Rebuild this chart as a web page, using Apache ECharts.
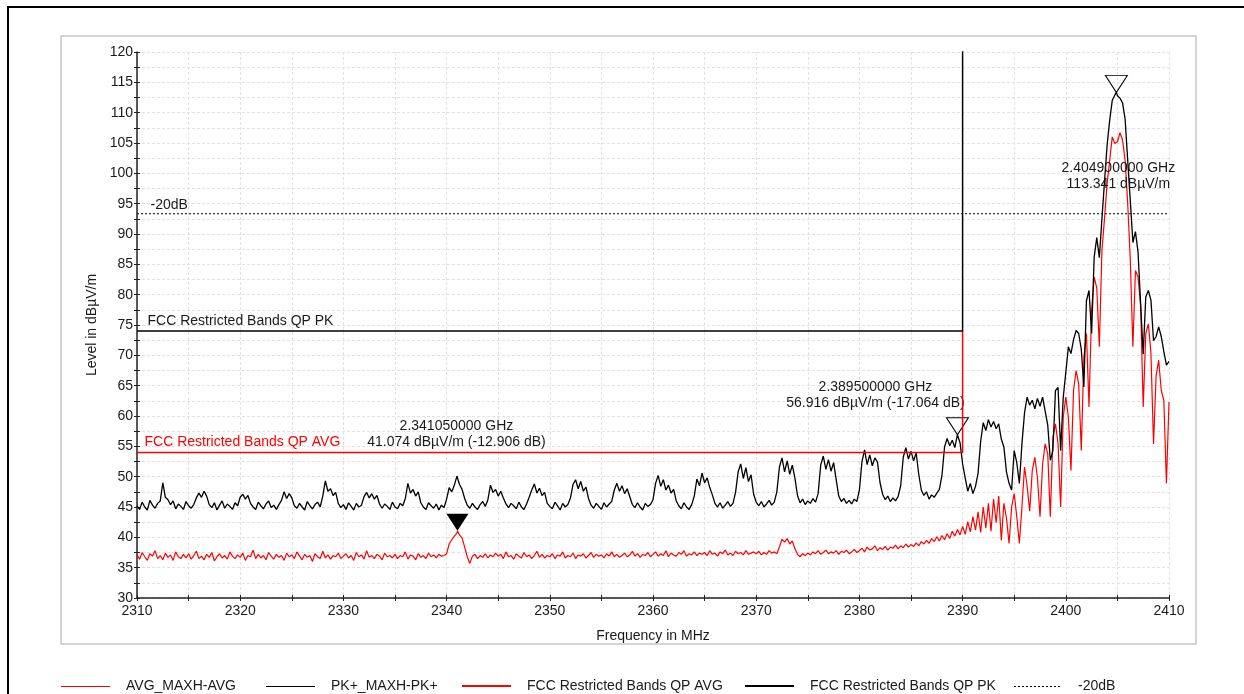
<!DOCTYPE html>
<html>
<head>
<meta charset="utf-8">
<script src="https://cdn.jsdelivr.net/npm/echarts@6/dist/echarts.min.js"></script>
<style>
  html, body { margin: 0; padding: 0; background: #ffffff; }
  #chart { width: 1244px; height: 694px; }
</style>
</head>
<body>
<div id="chart"></div>
<script>
// Receiver sweep 2310-2410 MHz, one reading every 250 kHz
const sweepStartMHz = 2310;
const sweepStepMHz = 0.25;

// PK+ max-hold trace, dBµV/m
const pkLevels = [
  // 2310.00
  45.2, 44.6, 45.8, 45.0, 44.5, 46.1, 45.3, 44.8, 45.6,
  // 2312.25
  46.0, 49.0, 46.6, 46.2, 45.4, 46.0,
  // 2313.75
  44.7, 45.5, 45.1, 44.6, 45.9, 45.2, 44.8, 45.4,
  // 2315.75
  46.5, 47.3, 46.6, 47.6, 46.8, 45.4,
  // 2317.25
  44.9, 45.7, 44.5, 45.3, 46.0, 44.8, 45.5, 45.1, 44.6, 45.7,
  // 2319.75
  45.2, 46.6, 47.1, 46.3, 46.9, 45.6,
  // 2321.25
  45.0, 44.6, 45.8, 45.2, 44.7, 45.5, 46.0, 44.9, 45.3, 44.6, 45.4,
  // 2324.00
  46.1, 47.5, 46.4, 47.2, 46.5, 45.2,
  // 2325.50
  44.8, 45.6, 45.0, 44.5, 45.9, 45.2, 44.7, 45.4, 45.8, 45.0,
  // 2328.00
  46.8, 49.3, 47.6, 48.0, 46.9, 47.4, 45.6,
  // 2329.75
  44.9, 45.4, 44.6, 45.7, 45.1, 44.5, 45.6, 45.0, 45.3,
  // 2332.00
  46.7, 47.4, 46.5, 47.2, 46.3, 46.9, 45.5,
  // 2333.75
  44.8, 45.5, 45.1, 44.6, 45.8, 45.0, 44.7, 45.6, 45.2,
  // 2336.00
  46.4, 48.9, 47.3, 47.9, 46.8, 47.5, 45.7,
  // 2337.75
  45.0, 44.6, 45.7, 45.2, 44.8, 45.5, 44.5, 45.3, 44.9,
  // 2340.00
  46.3, 48.2, 47.5, 48.6, 50.1, 48.7, 47.9, 46.4, 45.3,
  // 2342.25
  44.8, 45.6, 45.0, 44.6, 45.4, 45.9, 45.1,
  // 2344.00
  46.2, 48.6, 47.4, 47.9, 46.8, 47.6, 46.5, 45.5,
  // 2346.00
  44.9, 45.6, 45.2, 44.7, 45.8, 45.0, 44.6, 45.5,
  // 2348.00
  46.6, 47.8, 48.8, 47.3, 48.1, 46.9, 47.4, 45.6,
  // 2350.00
  45.1, 44.7, 45.8, 45.2, 44.5, 45.6, 45.0, 45.4,
  // 2352.00
  46.5, 48.7, 49.5, 48.0, 49.2, 47.6, 48.3, 46.4, 45.3,
  // 2354.25
  44.8, 45.6, 45.1, 44.6, 45.7, 45.0, 45.5,
  // 2356.00
  45.9, 47.8, 48.9, 47.6, 48.5, 47.2, 48.0, 46.7, 45.4,
  // 2358.25
  44.9, 45.7, 45.0, 44.5, 45.6, 45.1, 45.4,
  // 2360.00
  46.2, 48.9, 50.2, 48.4, 49.5, 47.8, 48.6, 47.3, 47.9, 46.0,
  // 2362.50
  45.2, 44.7, 45.7, 45.0, 44.6, 45.4,
  // 2364.00
  46.8, 49.6, 48.5, 50.6, 49.0, 49.8, 48.2, 47.0, 45.6,
  // 2366.25
  45.0, 45.7, 44.8, 45.3, 45.9, 45.1, 45.6,
  // 2368.00
  47.4, 50.8, 52.1, 49.7, 51.5, 49.2, 50.3, 47.1, 45.8,
  // 2370.25
  45.2, 45.9, 45.0, 45.5, 46.1, 45.3, 45.8,
  // 2372.00
  47.5, 51.6, 53.1, 50.8, 52.6, 50.4, 51.9, 49.8, 46.9,
  // 2374.25
  45.7, 46.3, 45.4, 46.0, 45.6, 46.4, 45.8,
  // 2376.00
  47.2, 51.9, 53.4, 51.2, 52.8, 50.9, 52.3, 49.5, 46.8,
  // 2378.25
  45.9, 46.4, 45.6, 46.1, 45.5, 46.3, 45.9,
  // 2380.00
  47.8, 52.5, 54.4, 52.0, 53.6, 51.8, 53.1, 52.4, 49.0, 47.1,
  // 2382.50
  46.2, 46.8, 45.9, 46.5, 46.0, 46.7,
  // 2384.00
  48.5, 53.2, 54.8, 52.9, 54.2, 52.6, 53.9, 50.4, 47.8,
  // 2386.25
  46.9, 47.5, 46.3, 47.0, 46.6, 47.3, 47.9,
  // 2388.00
  50.2, 54.9, 56.3, 55.1, 56.0, 54.8, 56.916, 55.6, 52.1,
  // 2390.25
  49.8, 47.6, 48.9, 47.2, 48.4, 50.6,
  // 2391.75
  55.8, 58.9, 57.6, 59.4, 58.2, 59.1, 57.9, 58.7,
  // 2393.75
  56.2, 54.9, 50.8, 48.9, 47.8, 54.3, 52.3, 48.9, 55.4, 60.5, 63.1,
  // 2396.50
  61.8, 62.6, 61.2, 62.9, 61.6, 63.1, 60.8, 58.5, 52.7, 54.3, 64.2, 64.7, 54.3, 63.0, 67.2,
  // 2400.25
  71.4, 70.3, 72.6, 74.1, 73.6, 71.0, 64.8, 79.0, 80.7, 73.6, 86.2, 89.4,
  // 2403.25
  86.1, 92.5, 98.6, 104.6, 108.7, 112.0, 112.9,
  // 2405.00
  112.8, 112.4, 111.6, 108.9, 102.1, 95.5, 88.6, 90.4, 87.0, 78.5, 70.2,
  79.6, 80.7, 79.1, 72.4, 73.1, 74.7, 73.1, 70.6, 68.4, 69.0
];

// AVG max-hold trace, dBµV/m (20 readings per row = 5 MHz)
const avgLevels = [
  /* 2310 */ 37.1, 36.4, 37.5, 36.8, 36.2, 37.3, 36.9, 37.8, 36.5, 37.0, 36.3, 37.4, 36.7, 37.1, 36.2, 37.6, 36.8, 36.5, 37.2, 36.6,
  /* 2315 */ 37.3, 36.4, 37.0, 37.7, 36.5, 36.9, 36.3, 37.2, 36.7, 37.5, 36.1, 36.8, 37.3, 36.6, 37.0, 36.4, 37.6, 36.9, 36.5, 37.1,
  /* 2320 */ 36.7, 37.4, 36.2, 37.0, 36.8, 37.9, 36.5, 37.2, 36.6, 37.0, 36.3, 37.5, 36.9, 36.4, 37.2, 36.7, 37.0, 36.2, 37.4, 36.8,
  /* 2325 */ 37.1, 36.5, 37.6, 36.9, 36.3, 37.2, 36.7, 37.0, 36.0, 37.3, 36.8, 36.5, 37.7, 36.6, 37.1, 36.4, 37.0, 36.8, 37.4, 36.5,
  /* 2330 */ 36.9, 37.3, 36.6, 37.0, 36.2, 37.5, 36.8, 37.1, 36.4, 37.8, 36.7, 37.0, 36.5, 37.2, 36.9, 36.3, 37.4, 36.8, 37.0, 36.6,
  /* 2335 */ 37.2, 36.5, 37.0, 36.8, 37.6, 36.4, 37.1, 36.9, 36.3, 37.3, 36.7, 37.0, 36.5, 37.4, 36.8, 37.1, 36.6, 37.2, 36.9, 37.0,
  /* 2340 */ 37.3, 38.9, 39.6, 40.2, 40.7, 40.4, 39.9, 38.4, 36.8, 35.7, 36.9, 37.2, 36.5, 37.0, 36.7, 37.3, 36.6, 37.1, 36.8, 37.4,
  /* 2345 */ 36.9, 37.2, 36.5, 37.6, 36.8, 37.0, 36.4, 37.3, 36.9, 36.6, 37.5, 36.8, 37.1, 36.5, 37.0, 37.7, 36.7, 37.2, 36.6, 37.0,
  /* 2350 */ 36.8, 37.3, 36.5, 37.1, 36.9, 37.6, 36.6, 37.0, 36.8, 37.4, 36.5, 37.1, 36.9, 37.3, 36.6, 37.0, 37.5, 36.7, 37.2, 36.9,
  /* 2355 */ 37.1, 36.6, 37.3, 36.9, 37.6, 36.8, 37.2, 36.7, 37.0, 37.4, 36.8, 37.1, 37.7, 36.9, 37.3, 36.7, 37.2, 37.0, 37.5, 36.8,
  /* 2360 */ 37.2, 37.6, 36.9, 37.3, 37.0, 37.8, 36.8, 37.4, 37.1, 36.9, 37.5, 37.2, 37.8, 36.9, 37.3, 37.1, 37.6, 37.0, 37.4, 37.2,
  /* 2365 */ 37.5, 37.0, 37.8, 37.2, 37.4, 36.9, 37.6, 37.3, 37.9, 37.1, 37.4, 37.0, 37.7, 37.3, 37.5, 37.1, 37.8, 37.2, 37.4, 37.6,
  /* 2370 */ 37.3, 37.7, 37.1, 37.5, 37.2, 37.8, 37.4, 37.6, 37.3, 38.4, 39.7, 39.2, 39.8, 38.9, 39.4, 38.1, 37.2, 36.8, 37.3, 37.0,
  /* 2375 */ 37.4, 37.1, 37.6, 37.3, 37.8, 37.2, 37.5, 37.9, 37.3, 37.6, 37.4, 37.8, 37.2, 37.7, 37.5, 37.9, 37.3, 37.6, 38.0, 37.5,
  /* 2380 */ 37.8, 38.2, 37.6, 38.4, 37.9, 38.1, 38.6, 37.8, 38.3, 38.0, 38.5, 37.9, 38.4, 38.2, 38.7, 38.1, 38.6, 38.3, 38.9, 38.4,
  /* 2385 */ 38.8, 38.5, 39.1, 38.6, 39.3, 38.9, 39.5, 39.0, 39.8, 39.3, 40.1, 39.4, 40.3, 39.6, 40.6, 39.8, 41.0, 40.2, 41.3, 40.4,
  /* 2390 */ 41.8, 40.5, 42.6, 40.9, 43.4, 41.2, 44.2, 40.8, 45.0, 41.5, 45.6, 41.0, 46.3, 42.4, 46.8, 39.5, 45.6, 43.2, 39.0, 45.0,
  /* 2395 */ 47.2, 43.4, 39.0, 45.0, 51.6, 48.5, 44.3, 51.0, 53.2, 49.9, 43.4, 52.0, 55.4, 53.8, 43.4, 56.5, 58.7, 55.4, 45.0, 59.8,
  /* 2400 */ 63.1, 59.8, 51.0, 64.2, 67.5, 65.3, 54.3, 69.7, 73.6, 61.5, 77.4, 82.9, 81.1, 71.4, 87.3, 92.5, 98.2, 102.1, 106.0, 104.9,
  /* 2405 */ 105.2, 106.7, 105.5, 102.1, 95.0, 85.7, 71.4, 84.0, 82.9, 78.2, 61.5, 73.6, 75.2, 70.4, 55.4, 66.6, 69.2, 64.2, 62.6, 48.9,
  /* 2410 */ 62.3
];

// FCC restricted band limits (band edge at 2390 MHz)
const limitFreqs = [2310, 2390, 2390];
const pkLimitLevels = [74, 74, 130];
const avgLimitLevels = [54, 54, 74];

// -20 dB reference below the carrier peak
const refFreqs = [2310, 2410];
const refLevels = [93.341, 93.341];

// Marker readings
const markerFreqs = [2404.9, 2389.5, 2341.05];
const markerLevels = [113.341, 56.916, 41.074];
const markerDeltas = [null, -17.064, -12.906];
const markerTrace = ['PK', 'PK', 'AVG'];
const markerFilled = [false, false, true];

// Axis ticks
const xMin = 2310, xMax = 2410, xTickStep = 5, xLabelStep = 10;
const yMin = 30, yMax = 120, yTickStep = 2.5, yLabelStep = 5;

const FONT = '"Liberation Sans", Arial, Helvetica, sans-serif';
const INK = '#1a1a1a';

function traceData(levels, traceName) {
  const pts = levels.map((v, i) => [sweepStartMHz + i * sweepStepMHz, v]);
  markerFreqs.forEach((f, k) => {
    if (markerTrace[k] !== traceName) return;
    const hit = pts.find(p => Math.abs(p[0] - f) < 1e-6);
    if (hit) hit[1] = markerLevels[k];
    else pts.push([f, markerLevels[k]]);
  });
  pts.sort((a, b) => a[0] - b[0]);
  return pts;
}

function pairs(xs, ys) { return xs.map((x, i) => [x, ys[i]]); }

const markerLabelOffsets = [[2, 92], [-82, -31], [-1, -88]];

function markerItem(k) {
  const f = markerFreqs[k], v = markerLevels[k], d = markerDeltas[k];
  let txt = (f / 1000).toFixed(9) + ' GHz\n' + v.toFixed(3) + ' dBµV/m';
  if (d !== null) txt += ' (' + d.toFixed(3) + ' dB)';
  return {
    coord: [f, v],
    symbol: 'path://M0,0L22,0L11,17Z',
    symbolSize: [22, 17],
    symbolOffset: [0, '-50%'],
    itemStyle: markerFilled[k]
      ? { color: '#000000', borderWidth: 0 }
      : { color: 'rgba(255,255,255,0)', borderColor: '#000000', borderWidth: 1 },
    label: {
      show: true, position: 'inside', offset: markerLabelOffsets[k],
      formatter: txt, color: INK, fontSize: 14, lineHeight: 16,
      fontFamily: FONT, align: 'center'
    }
  };
}

function markersFor(traceName) {
  const out = [];
  markerFreqs.forEach((f, k) => { if (markerTrace[k] === traceName) out.push(markerItem(k)); });
  return out;
}

function lineTag(f, v, text, color, offset) {
  return {
    coord: [f, v], symbol: 'circle', symbolSize: 1,
    itemStyle: { color: 'rgba(0,0,0,0)' },
    label: { show: true, position: 'right', distance: 0, offset: offset,
             formatter: text, color: color, fontSize: 14, fontFamily: FONT }
  };
}

const gridBox = { left: 137, top: 52, width: 1032, height: 546 };

const baseX = {
  type: 'value', min: xMin, max: xMax, interval: xTickStep, gridIndex: 0, position: 'bottom'
};
const baseY = {
  type: 'value', min: yMin, max: yMax, interval: yTickStep, gridIndex: 0, position: 'left'
};

const legendItems = [
  { x: 61, w: 49, text: 'AVG_MAXH-AVG', color: '#ff0000', width: 1, dash: null },
  { x: 266, w: 49, text: 'PK+_MAXH-PK+', color: '#000000', width: 1, dash: null },
  { x: 462, w: 49, text: 'FCC Restricted Bands QP AVG', color: '#ff0000', width: 2, dash: null },
  { x: 745, w: 49, text: 'FCC Restricted Bands QP PK', color: '#000000', width: 2, dash: null },
  { x: 1014, w: 48, text: '-20dB', color: '#000000', width: 1, dash: [2, 2] }
];
const legendY = 686;

const graphicEls = [
  { type: 'rect', silent: true, z: -10,
    shape: { x: 8, y: 7, width: 1400, height: 900 },
    style: { fill: 'none', stroke: '#000000', lineWidth: 2 } },
  { type: 'rect', silent: true, z: -10,
    shape: { x: 61, y: 36, width: 1135, height: 608 },
    style: { fill: 'none', stroke: '#c6c6c6', lineWidth: 1.5 } }
];
legendItems.forEach(it => {
  // odd widths sit on a half pixel so the swatch stays crisp
  const ly = legendY + (it.width % 2 === 1 ? 0.5 : 0);
  graphicEls.push({ type: 'line', silent: true,
    shape: { x1: it.x, y1: ly, x2: it.x + it.w, y2: ly },
    style: { stroke: it.color, lineWidth: it.width, lineDash: it.dash } });
  graphicEls.push({ type: 'text', silent: true,
    x: it.x + it.w + 16, y: legendY,
    style: { text: it.text, fill: INK, font: '14px ' + FONT, verticalAlign: 'middle', align: 'left' } });
});

const option = {
  animation: false,
  backgroundColor: '#ffffff',
  grid: gridBox,
  xAxis: [
    Object.assign({}, baseX, {
      name: 'Frequency in MHz', nameLocation: 'middle', nameGap: 31,
      nameTextStyle: { fontSize: 14, color: INK, fontFamily: FONT },
      axisLine: { show: true, onZero: false, lineStyle: { color: '#222222', width: 1.5 } },
      axisTick: { show: true, inside: false, length: 3, lineStyle: { color: '#222222' } },
      axisLabel: { fontSize: 14, color: INK, fontFamily: FONT, margin: 6,
        formatter: v => (Math.abs(v % xLabelStep) < 1e-9 ? String(v) : '') },
      splitLine: { show: true, lineStyle: { color: '#e2e2e2', width: 1, type: [3, 2] } }
    }),
    Object.assign({}, baseX, {
      axisLine: { show: false },
      axisTick: { show: true, inside: true, length: 3, lineStyle: { color: '#222222' } },
      axisLabel: { show: false }, splitLine: { show: false }
    })
  ],
  yAxis: [
    Object.assign({}, baseY, {
      name: 'Level in dBµV/m', nameLocation: 'middle', nameGap: 37,
      nameTextStyle: { fontSize: 14, color: INK, fontFamily: FONT },
      axisLine: { show: true, onZero: false, lineStyle: { color: '#222222', width: 1.5 } },
      axisTick: { show: true, inside: false, length: 3, lineStyle: { color: '#222222' } },
      axisLabel: { fontSize: 14, color: INK, fontFamily: FONT, margin: 4,
        formatter: v => (Math.abs(v % yLabelStep) < 1e-9 ? String(v) : '') },
      splitLine: { show: true, lineStyle: { color: '#e2e2e2', width: 1, type: [3, 2] } }
    }),
    Object.assign({}, baseY, {
      axisLine: { show: false },
      axisTick: { show: true, inside: true, length: 3, lineStyle: { color: '#222222' } },
      axisLabel: { show: false }, splitLine: { show: false }
    })
  ],
  graphic: { elements: graphicEls },
  series: [
    {
      name: 'AVG_MAXH-AVG', type: 'line', data: traceData(avgLevels, 'AVG'),
      symbol: 'none', showSymbol: false, clip: true, z: 3,
      lineStyle: { color: '#ff0000', width: 1.2 }, itemStyle: { color: '#ff0000' },
      markPoint: { silent: true, data: markersFor('AVG') }
    },
    {
      name: 'PK+_MAXH-PK+', type: 'line', data: traceData(pkLevels, 'PK'),
      symbol: 'none', showSymbol: false, clip: true, z: 4,
      lineStyle: { color: '#000000', width: 1.3 }, itemStyle: { color: '#000000' },
      markPoint: { silent: true, data: markersFor('PK') }
    },
    {
      name: 'FCC Restricted Bands QP AVG', type: 'line', data: pairs(limitFreqs, avgLimitLevels),
      symbol: 'none', showSymbol: false, clip: true, z: 5,
      lineStyle: { color: '#ff0000', width: 1.5 }, itemStyle: { color: '#ff0000' },
      markPoint: { silent: true,
        data: [lineTag(limitFreqs[0], avgLimitLevels[0], 'FCC Restricted Bands QP AVG', '#ff0000', [7, -10])] }
    },
    {
      name: 'FCC Restricted Bands QP PK', type: 'line', data: pairs(limitFreqs, pkLimitLevels),
      symbol: 'none', showSymbol: false, clip: true, z: 6,
      lineStyle: { color: '#000000', width: 1.5 }, itemStyle: { color: '#000000' },
      markPoint: { silent: true,
        data: [lineTag(limitFreqs[0], pkLimitLevels[0], 'FCC Restricted Bands QP PK', INK, [10, -10])] }
    },
    {
      name: '-20dB', type: 'line', data: pairs(refFreqs, refLevels),
      symbol: 'none', showSymbol: false, clip: true, z: 6,
      lineStyle: { color: '#000000', width: 1, type: [2, 2] }, itemStyle: { color: '#000000' },
      markPoint: { silent: true,
        data: [lineTag(refFreqs[0], refLevels[0], '-20dB', INK, [13, -9])] }
    }
  ]
};

const chart = echarts.init(document.getElementById('chart'), null, { renderer: 'canvas' });
chart.setOption(option);
</script>
</body>
</html>
